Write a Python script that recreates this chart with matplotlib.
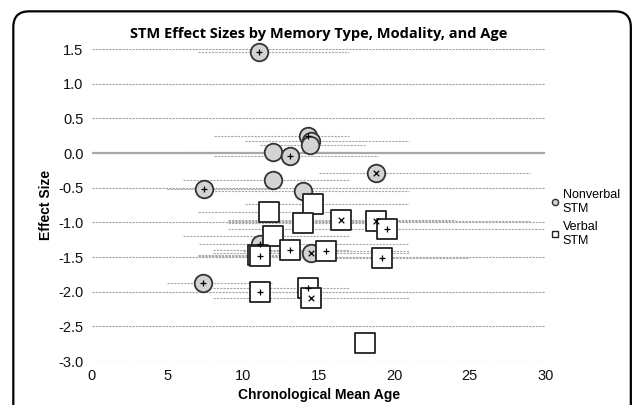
import numpy as np
import matplotlib
matplotlib.use("Agg")
import matplotlib.pyplot as plt
from matplotlib.patches import FancyBboxPatch
from matplotlib.lines import Line2D

# ---- data ----
nv_age = [11.06, 14.3, 14.5, 14.4, 12.0, 13.1, 18.8, 12.0, 7.4, 14.0, 11.1, 14.5, 7.35]
nv_es = [1.46, 0.245, 0.17, 0.12, 0.02, -0.04, -0.29, -0.39, -0.52, -0.55, -1.31, -1.44, -1.875]
nv_mark = ['+', '+', '', '', '', '+', 'x', '', '+', '', '+', 'x', '+']
nv_lo = [7.0, 8.1, 10.1, 11.1, 6.0, 8.1, 15.0, 6.0, 5.0, 7.0, 7.1, 8.0, 5.0]
nv_hi = [17.0, 17.0, 21.0, 18.1, 18.0, 18.9, 29.0, 17.0, 12.0, 21.0, 21.0, 21.0, 11.9]

v_age = [11.7, 14.6, 14.0, 16.5, 18.8, 19.5, 12.0, 13.1, 15.5, 11.0, 11.1, 19.2, 11.1, 14.3, 14.5, 18.1]
v_es = [-0.85, -0.74, -1.01, -0.97, -0.98, -1.10, -1.20, -1.40, -1.41, -1.47, -1.49, -1.51, -2.0, -1.95, -2.09, -2.74]
v_mark = ['', '', '', 'x', 'x', '+', '', '+', '+', '', '+', '+', '+', '+', 'x', '']
v_lo = [7.0, 10.1, 9.0, 9.0, 9.0, 9.0, 6.0, 8.0, 10.0, 7.0, 7.0, 13.5, np.nan, 8.0, 8.0, np.nan]
v_hi = [17.0, 21.0, 19.0, 24.0, 29.0, 30.0, 17.0, 17.0, 21.0, 15.0, 15.0, 24.9, np.nan, 17.0, 21.0, np.nan]

yticks = [1.5, 1.0, 0.5, 0.0, -0.5, -1.0, -1.5, -2.0, -2.5, -3.0]
xticks = [0, 5, 10, 15, 20, 25, 30]

plt.rcParams['font.family'] = ['Liberation Sans', 'DejaVu Sans']

fig = plt.figure(figsize=(6.34, 4.05), dpi=100)
ax = fig.add_axes([0.145, 0.1086, 0.715, 0.7704])
ax.set_xlim(0, 30)
ax.set_ylim(-3.0, 1.5)

# rounded frame
frame = FancyBboxPatch((0.021, -0.1), 0.974, 1.072, boxstyle="round,pad=0,rounding_size=0.025",
                       transform=fig.transFigure, fill=False, edgecolor='black', linewidth=1.6,
                       mutation_aspect=634/405)
fig.patches.append(frame)

# gridlines
for yv in yticks:
    if yv == 0:
        ax.axhline(yv, color='#a8a8a8', lw=1.6, zorder=1)
    else:
        ax.axhline(yv, color='#a0a0a0', lw=0.8, ls=(0, (2, 1)), zorder=1)

# age ranges
for lo, hi, yv in zip(nv_lo, nv_hi, nv_es):
    if not np.isnan(lo):
        ax.hlines(yv, lo, hi, color='#a8a8a8', lw=0.8, linestyles=[(0, (2, 1))], zorder=2)
for lo, hi, yv in zip(v_lo, v_hi, v_es):
    if not np.isnan(lo):
        ax.hlines(yv, lo, hi, color='#a8a8a8', lw=0.8, linestyles=[(0, (2, 1))], zorder=2)

# markers
ax.scatter(nv_age, nv_es, s=160, marker='o', facecolor='#d3d3d3', edgecolor='#333333',
           linewidth=1.3, zorder=4, clip_on=False)
ax.scatter(v_age, v_es, s=200, marker='s', facecolor='white', edgecolor='#222222',
           linewidth=1.3, zorder=5, clip_on=False)
for xs, ys, ms, z in [(nv_age, nv_es, nv_mark, 6), (v_age, v_es, v_mark, 7)]:
    for xv, yv, m in zip(xs, ys, ms):
        if m:
            ax.scatter([xv], [yv], s=16, marker=m, color='black', linewidth=0.9, zorder=z, clip_on=False)

for s in ax.spines.values():
    s.set_visible(False)
ax.tick_params(length=0, labelsize=10.5, colors='#111111', pad=6)
ax.set_xticks(xticks)
ax.set_yticks(yticks)
ax.set_yticklabels([f"{v:.1f}" for v in yticks])
ax.set_xlabel("Chronological Mean Age", fontsize=10, fontweight='bold', labelpad=3)
ax.set_ylabel("Effect Size", fontsize=10, fontweight='bold', labelpad=4)
ax.set_title("STM Effect Sizes by Memory Type, Modality, and Age", fontsize=10.5,
             fontweight='bold', family=['Open Sans', 'DejaVu Sans'], pad=8)

handles = [Line2D([], [], ls='none', marker='o', markersize=4.5, markerfacecolor='#d3d3d3',
                  markeredgecolor='#333333'),
           Line2D([], [], ls='none', marker='s', markersize=4.5, markerfacecolor='white',
                  markeredgecolor='#222222')]
fig.legend(handles, ["Nonverbal\nSTM", "Verbal\nSTM"], loc='upper left',
           bbox_to_anchor=(0.862, 0.545), frameon=False, fontsize=9,
           handlelength=0.6, handletextpad=0.3, labelspacing=0.5, borderaxespad=0)

fig.savefig("out.png", dpi=100)
